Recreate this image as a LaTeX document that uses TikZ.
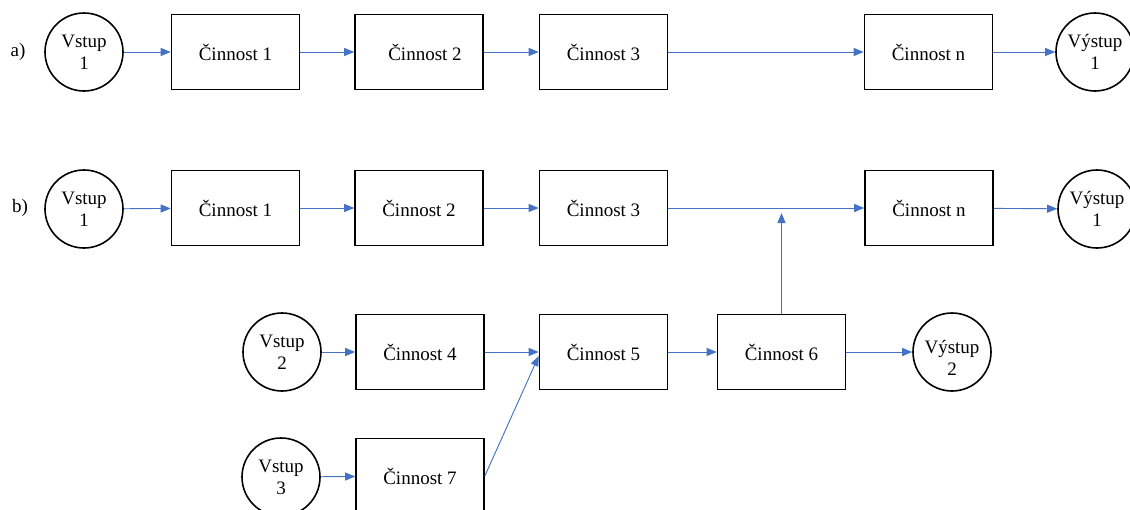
\documentclass[tikz,border=0pt]{standalone}
\usepackage{fontspec}
\setmainfont{Liberation Serif}
\usetikzlibrary{arrows.meta}
\definecolor{arrowblue}{HTML}{4472C4}
\begin{document}
\begin{tikzpicture}[x=1pt,y=-1pt,
  every node/.style={font=\fontsize{19}{22}\selectfont},
  stepbox/.style={draw, line width=1.6pt, minimum width=128pt, minimum height=75pt, inner sep=0pt},
  terminal/.style={draw, circle, line width=1.6pt, minimum size=78pt, inner sep=0pt, align=center},
  flow/.style={-{Triangle[length=10pt,width=8pt]}, draw=arrowblue, fill=arrowblue, line width=0.9pt},
  lbl/.style={inner sep=0pt}]
\clip (0,0) rectangle (1130,509);
\useasboundingbox (0,0) rectangle (1130,509);
% row a
\node[lbl] (la) at (18,52) {a)};
\node[terminal] (v1a) at (84,52) {Vstup\\1};
\node[stepbox] (c1a) at (235.5,52) {Činnost 1};
\node[stepbox] (c2a) at (419,52) {\hspace{12pt}Činnost 2};
\node[stepbox] (c3a) at (603.5,52) {Činnost 3};
\node[stepbox] (cna) at (928.5,52) {Činnost n};
\node[terminal] (o1a) at (1095,52) {Výstup\\1};
\draw[flow] (v1a) -- (c1a);
\draw[flow] (c1a) -- (c2a);
\draw[flow] (c2a) -- (c3a);
\draw[flow] (c3a) -- (cna);
\draw[flow] (cna) -- (o1a);
% row b
\node[lbl] (lb) at (20,208) {b)};
\node[terminal] (v1b) at (84,209) {Vstup\\1};
\node[stepbox] (c1b) at (235.5,208) {Činnost 1};
\node[stepbox] (c2b) at (419,208) {Činnost 2};
\node[stepbox] (c3b) at (603.5,208) {Činnost 3};
\node[stepbox] (cnb) at (929,208) {Činnost n};
\node[terminal] (o1b) at (1097,209) {Výstup\\1};
\draw[flow] (v1b) -- (c1b);
\draw[flow] (c1b) -- (c2b);
\draw[flow] (c2b) -- (c3b);
\draw[flow] (c3b) -- (cnb);
\draw[flow] (cnb) -- (o1b);
% row c
\node[terminal] (v2) at (282,352) {Vstup\\2};
\node[stepbox] (c4) at (420,352) {Činnost 4};
\node[stepbox] (c5) at (603.5,352) {Činnost 5};
\node[stepbox] (c6) at (781.5,352) {Činnost 6};
\node[terminal, label={[lbl, align=center, yshift=-6pt]center:Výstup\\2}] (o2) at (952,352) {};
\node[terminal] (v3) at (281,477) {Vstup\\3};
\node[stepbox] (c7) at (420,476) {Činnost 7};
\coordinate (j) at (781.5,213);
\draw[flow] (v2) -- (c4);
\draw[flow] (c4) -- (c5);
\draw[flow] (c5) -- (c6);
\draw[flow] (c6) -- (o2);
\draw[flow] (v3) -- (c7);
\draw[flow] (c7.east) -- ([yshift=-4pt]c5.west);
\draw[flow] (c6.north) -- (j);
\end{tikzpicture}
\end{document}
